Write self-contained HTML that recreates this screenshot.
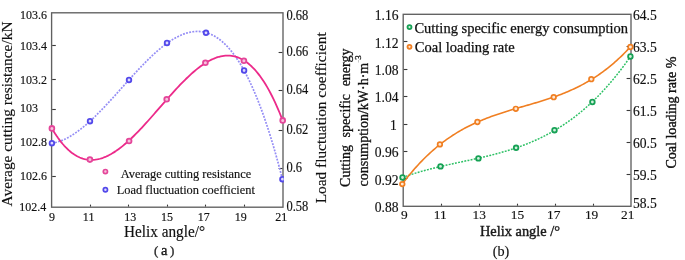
<!DOCTYPE html>
<html><head><meta charset="utf-8"><style>
html,body{margin:0;padding:0;background:#fff;}
svg{display:block;font-family:"Liberation Serif", serif;will-change:transform;}
</style></head><body>
<svg width="685" height="260" viewBox="0 0 685 260">
<rect width="685" height="260" fill="#fff"/>
<rect x="51.6" y="12.8" width="231.40" height="194.40" fill="none" stroke="#606060" stroke-width="1.35"/>
<text transform="translate(19.20,211.45) scale(1,1.12)" font-size="12" text-anchor="start" font-weight="normal" fill="#111111" stroke="#111111" stroke-width="0.15" >102.4</text>
<line x1="52.20" y1="176.50" x2="55.80" y2="176.50" stroke="#3a3a3a" stroke-width="1.1"/>
<text transform="translate(20.00,179.75) scale(1,1.12)" font-size="12" text-anchor="start" font-weight="normal" fill="#111111" stroke="#111111" stroke-width="0.15" >102.6</text>
<line x1="52.20" y1="142.50" x2="55.80" y2="142.50" stroke="#3a3a3a" stroke-width="1.1"/>
<text transform="translate(20.00,146.25) scale(1,1.12)" font-size="12" text-anchor="start" font-weight="normal" fill="#111111" stroke="#111111" stroke-width="0.15" >102.8</text>
<line x1="52.20" y1="109.50" x2="55.80" y2="109.50" stroke="#3a3a3a" stroke-width="1.1"/>
<text transform="translate(20.00,111.95) scale(1,1.12)" font-size="12" text-anchor="start" font-weight="normal" fill="#111111" stroke="#111111" stroke-width="0.15" >103</text>
<line x1="52.20" y1="79.50" x2="55.80" y2="79.50" stroke="#3a3a3a" stroke-width="1.1"/>
<text transform="translate(20.00,83.55) scale(1,1.12)" font-size="12" text-anchor="start" font-weight="normal" fill="#111111" stroke="#111111" stroke-width="0.15" >103.2</text>
<line x1="52.20" y1="45.50" x2="55.80" y2="45.50" stroke="#3a3a3a" stroke-width="1.1"/>
<text transform="translate(20.00,50.25) scale(1,1.12)" font-size="12" text-anchor="start" font-weight="normal" fill="#111111" stroke="#111111" stroke-width="0.15" >103.4</text>
<text transform="translate(20.00,18.55) scale(1,1.12)" font-size="12" text-anchor="start" font-weight="normal" fill="#111111" stroke="#111111" stroke-width="0.15" >103.6</text>
<text transform="translate(286.40,211.00) scale(1,1.12)" font-size="12.5" text-anchor="start" font-weight="normal" fill="#111111" stroke="#111111" stroke-width="0.15" >0.58</text>
<line x1="282.40" y1="168.50" x2="278.60" y2="168.50" stroke="#3a3a3a" stroke-width="1.1"/>
<text transform="translate(286.40,171.85) scale(1,1.12)" font-size="12.5" text-anchor="start" font-weight="normal" fill="#111111" stroke="#111111" stroke-width="0.15" >0.6</text>
<line x1="282.40" y1="130.50" x2="278.60" y2="130.50" stroke="#3a3a3a" stroke-width="1.1"/>
<text transform="translate(286.40,134.35) scale(1,1.12)" font-size="12.5" text-anchor="start" font-weight="normal" fill="#111111" stroke="#111111" stroke-width="0.15" >0.62</text>
<line x1="282.40" y1="90.50" x2="278.60" y2="90.50" stroke="#3a3a3a" stroke-width="1.1"/>
<text transform="translate(286.40,94.35) scale(1,1.12)" font-size="12.5" text-anchor="start" font-weight="normal" fill="#111111" stroke="#111111" stroke-width="0.15" >0.64</text>
<line x1="282.40" y1="52.50" x2="278.60" y2="52.50" stroke="#3a3a3a" stroke-width="1.1"/>
<text transform="translate(286.40,56.05) scale(1,1.12)" font-size="12.5" text-anchor="start" font-weight="normal" fill="#111111" stroke="#111111" stroke-width="0.15" >0.66</text>
<text transform="translate(286.40,20.20) scale(1,1.12)" font-size="12.5" text-anchor="start" font-weight="normal" fill="#111111" stroke="#111111" stroke-width="0.15" >0.68</text>
<text transform="translate(52.10,220.60) scale(1,1.12)" font-size="12" text-anchor="middle" font-weight="normal" fill="#111111" stroke="#111111" stroke-width="0.15" >9</text>
<line x1="90.50" y1="206.60" x2="90.50" y2="204.60" stroke="#3a3a3a" stroke-width="1.1"/>
<text transform="translate(88.60,220.60) scale(1,1.12)" font-size="12" text-anchor="middle" font-weight="normal" fill="#111111" stroke="#111111" stroke-width="0.15" >11</text>
<line x1="128.50" y1="206.60" x2="128.50" y2="204.60" stroke="#3a3a3a" stroke-width="1.1"/>
<text transform="translate(130.20,220.60) scale(1,1.12)" font-size="12" text-anchor="middle" font-weight="normal" fill="#111111" stroke="#111111" stroke-width="0.15" >13</text>
<line x1="167.50" y1="206.60" x2="167.50" y2="204.60" stroke="#3a3a3a" stroke-width="1.1"/>
<text transform="translate(167.00,220.60) scale(1,1.12)" font-size="12" text-anchor="middle" font-weight="normal" fill="#111111" stroke="#111111" stroke-width="0.15" >15</text>
<line x1="205.50" y1="206.60" x2="205.50" y2="204.60" stroke="#3a3a3a" stroke-width="1.1"/>
<text transform="translate(203.80,220.60) scale(1,1.12)" font-size="12" text-anchor="middle" font-weight="normal" fill="#111111" stroke="#111111" stroke-width="0.15" >17</text>
<line x1="244.50" y1="206.60" x2="244.50" y2="204.60" stroke="#3a3a3a" stroke-width="1.1"/>
<text transform="translate(240.80,220.60) scale(1,1.12)" font-size="12" text-anchor="middle" font-weight="normal" fill="#111111" stroke="#111111" stroke-width="0.15" >19</text>
<text transform="translate(281.30,220.60) scale(1,1.12)" font-size="12" text-anchor="middle" font-weight="normal" fill="#111111" stroke="#111111" stroke-width="0.15" >21</text>
<path d="M51.90,143.21 L53.45,142.95 L54.99,142.63 L56.54,142.24 L58.09,141.80 L59.63,141.29 L61.18,140.72 L62.73,140.10 L64.28,139.42 L65.82,138.68 L67.37,137.90 L68.92,137.06 L70.46,136.17 L72.01,135.23 L73.56,134.24 L75.10,133.21 L76.65,132.13 L78.20,131.01 L79.75,129.85 L81.29,128.65 L82.84,127.41 L84.39,126.14 L85.93,124.83 L87.48,123.48 L89.03,122.10 L90.57,120.69 L92.12,119.25 L93.67,117.78 L95.22,116.29 L96.76,114.77 L98.31,113.22 L99.86,111.66 L101.40,110.07 L102.95,108.46 L104.50,106.84 L106.04,105.19 L107.59,103.54 L109.14,101.87 L110.69,100.18 L112.23,98.49 L113.78,96.78 L115.33,95.07 L116.87,93.36 L118.42,91.63 L119.97,89.91 L121.51,88.18 L123.06,86.45 L124.61,84.72 L126.16,83.00 L127.70,81.28 L129.25,79.56 L130.80,77.85 L132.34,76.15 L133.89,74.46 L135.44,72.78 L136.98,71.11 L138.53,69.45 L140.08,67.81 L141.62,66.19 L143.17,64.59 L144.72,63.01 L146.27,61.44 L147.81,59.91 L149.36,58.39 L150.91,56.90 L152.45,55.44 L154.00,54.01 L155.55,52.60 L157.09,51.23 L158.64,49.89 L160.19,48.59 L161.74,47.32 L163.28,46.09 L164.83,44.90 L166.38,43.75 L167.92,42.64 L169.47,41.57 L171.02,40.55 L172.56,39.57 L174.11,38.65 L175.66,37.77 L177.21,36.94 L178.75,36.16 L180.30,35.44 L181.85,34.77 L183.39,34.16 L184.94,33.61 L186.49,33.11 L188.03,32.68 L189.58,32.31 L191.13,32.00 L192.68,31.76 L194.22,31.58 L195.77,31.48 L197.32,31.44 L198.86,31.47 L200.41,31.58 L201.96,31.76 L203.50,32.01 L205.05,32.34 L206.60,32.75 L208.14,33.24 L209.69,33.81 L211.24,34.47 L212.79,35.20 L214.33,36.03 L215.88,36.94 L217.43,37.94 L218.97,39.03 L220.52,40.21 L222.07,41.48 L223.61,42.85 L225.16,44.31 L226.71,45.87 L228.26,47.53 L229.80,49.29 L231.35,51.15 L232.90,53.12 L234.44,55.19 L235.99,57.36 L237.54,59.65 L239.08,62.04 L240.63,64.54 L242.18,67.16 L243.73,69.88 L245.27,72.73 L246.82,75.69 L248.37,78.76 L249.91,81.96 L251.46,85.27 L253.01,88.71 L254.55,92.28 L256.10,95.96 L257.65,99.78 L259.20,103.72 L260.74,107.79 L262.29,111.99 L263.84,116.33 L265.38,120.80 L266.93,125.40 L268.48,130.14 L270.02,135.02 L271.57,140.04 L273.12,145.20 L274.67,150.50 L276.21,155.94 L277.76,161.54 L279.31,167.27 L280.85,173.16 L282.40,179.20" fill="none" stroke="#958ef5" stroke-width="1.7" stroke-dasharray="1.9,1.3" stroke-linecap="butt" stroke-linejoin="round"/>
<path d="M51.90,128.36 L53.45,130.97 L55.00,133.45 L56.55,135.80 L58.10,138.04 L59.64,140.15 L61.19,142.14 L62.74,144.02 L64.29,145.78 L65.84,147.43 L67.39,148.97 L68.94,150.39 L70.49,151.71 L72.04,152.93 L73.59,154.04 L75.13,155.04 L76.68,155.95 L78.23,156.76 L79.78,157.47 L81.33,158.08 L82.88,158.61 L84.43,159.04 L85.98,159.38 L87.53,159.64 L89.08,159.81 L90.62,159.89 L92.17,159.90 L93.72,159.82 L95.27,159.67 L96.82,159.44 L98.37,159.13 L99.92,158.75 L101.47,158.30 L103.02,157.78 L104.57,157.20 L106.11,156.55 L107.66,155.83 L109.21,155.06 L110.76,154.22 L112.31,153.33 L113.86,152.37 L115.41,151.37 L116.96,150.31 L118.51,149.20 L120.06,148.05 L121.60,146.84 L123.15,145.59 L124.70,144.30 L126.25,142.97 L127.80,141.60 L129.35,140.18 L130.90,138.74 L132.45,137.26 L134.00,135.74 L135.55,134.20 L137.09,132.63 L138.64,131.03 L140.19,129.40 L141.74,127.76 L143.29,126.09 L144.84,124.40 L146.39,122.70 L147.94,120.98 L149.49,119.24 L151.04,117.49 L152.58,115.74 L154.13,113.97 L155.68,112.20 L157.23,110.43 L158.78,108.65 L160.33,106.87 L161.88,105.09 L163.43,103.31 L164.98,101.54 L166.53,99.78 L168.07,98.02 L169.62,96.27 L171.17,94.54 L172.72,92.82 L174.27,91.11 L175.82,89.43 L177.37,87.76 L178.92,86.11 L180.47,84.49 L182.02,82.89 L183.56,81.31 L185.11,79.77 L186.66,78.26 L188.21,76.78 L189.76,75.33 L191.31,73.92 L192.86,72.54 L194.41,71.21 L195.96,69.92 L197.51,68.67 L199.05,67.46 L200.60,66.31 L202.15,65.20 L203.70,64.14 L205.25,63.14 L206.80,62.19 L208.35,61.29 L209.90,60.45 L211.45,59.68 L213.00,58.96 L214.54,58.31 L216.09,57.72 L217.64,57.21 L219.19,56.76 L220.74,56.38 L222.29,56.07 L223.84,55.84 L225.39,55.68 L226.94,55.61 L228.49,55.61 L230.03,55.70 L231.58,55.87 L233.13,56.12 L234.68,56.46 L236.23,56.89 L237.78,57.42 L239.33,58.03 L240.88,58.74 L242.43,59.55 L243.98,60.46 L245.52,61.46 L247.07,62.57 L248.62,63.79 L250.17,65.10 L251.72,66.53 L253.27,68.07 L254.82,69.71 L256.37,71.47 L257.92,73.35 L259.47,75.34 L261.01,77.46 L262.56,79.69 L264.11,82.04 L265.66,84.52 L267.21,87.13 L268.76,89.86 L270.31,92.72 L271.86,95.72 L273.41,98.85 L274.96,102.11 L276.50,105.51 L278.05,109.05 L279.60,112.73 L281.15,116.56 L282.70,120.53" fill="none" stroke="#ec2a8a" stroke-width="1.8" stroke-linecap="butt" stroke-linejoin="round"/>
<circle cx="51.90" cy="128.40" r="2.4" fill="#f7c4dc" stroke="#e4469a" stroke-width="1.8"/>
<circle cx="89.90" cy="159.60" r="2.4" fill="#f7c4dc" stroke="#e4469a" stroke-width="1.8"/>
<circle cx="129.10" cy="141.00" r="2.4" fill="#f7c4dc" stroke="#e4469a" stroke-width="1.8"/>
<circle cx="166.70" cy="99.20" r="2.4" fill="#f7c4dc" stroke="#e4469a" stroke-width="1.8"/>
<circle cx="205.40" cy="62.80" r="2.4" fill="#f7c4dc" stroke="#e4469a" stroke-width="1.8"/>
<circle cx="243.90" cy="60.80" r="2.4" fill="#f7c4dc" stroke="#e4469a" stroke-width="1.8"/>
<circle cx="282.70" cy="120.40" r="2.4" fill="#f7c4dc" stroke="#e4469a" stroke-width="1.8"/>
<clipPath id="cl"><rect x="0" y="0" width="283.8" height="260"/></clipPath><g clip-path="url(#cl)">
<circle cx="51.90" cy="143.20" r="2.3" fill="#dedbfe" stroke="#5248ea" stroke-width="1.8"/>
<circle cx="90.00" cy="121.20" r="2.3" fill="#dedbfe" stroke="#5248ea" stroke-width="1.8"/>
<circle cx="129.00" cy="80.00" r="2.3" fill="#dedbfe" stroke="#5248ea" stroke-width="1.8"/>
<circle cx="167.00" cy="43.00" r="2.3" fill="#dedbfe" stroke="#5248ea" stroke-width="1.8"/>
<circle cx="206.00" cy="32.80" r="2.3" fill="#dedbfe" stroke="#5248ea" stroke-width="1.8"/>
<circle cx="244.10" cy="70.50" r="2.3" fill="#dedbfe" stroke="#5248ea" stroke-width="1.8"/>
<circle cx="282.40" cy="179.20" r="2.3" fill="#dedbfe" stroke="#5248ea" stroke-width="1.8"/>
</g>
<text transform="translate(164.50,236.80) scale(1,1.12)" font-size="15.4" text-anchor="middle" font-weight="normal" fill="#111111" stroke="#111111" stroke-width="0.15" textLength="81" lengthAdjust="spacingAndGlyphs">Helix angle/°</text>
<text x="164.20" y="255.40" font-size="14.5" text-anchor="middle" font-weight="normal" fill="#111111" stroke="#111111" stroke-width="0.3" ><tspan font-size="13" fill="#333">(</tspan><tspan dx="2.6">a</tspan><tspan dx="2.8" font-size="13" fill="#333">)</tspan></text>
<text x="0.00" y="0.00" font-size="15.4" text-anchor="middle" font-weight="normal" fill="#111111" stroke="#111111" stroke-width="0.15" transform="translate(11.6,114.0) rotate(-90)" textLength="185" lengthAdjust="spacingAndGlyphs">Average cutting resistance/kN</text>
<text x="0.00" y="0.00" font-size="15.4" text-anchor="middle" font-weight="normal" fill="#111111" stroke="#111111" stroke-width="0.15" transform="translate(325.8,117.8) rotate(-90)" textLength="171" lengthAdjust="spacingAndGlyphs">Load fluctuation coefficient</text>
<circle cx="105.40" cy="171.60" r="2.1" fill="#f7c4dc" stroke="#e4469a" stroke-width="1.7"/>
<circle cx="105.40" cy="189.80" r="2.1" fill="#dedbfe" stroke="#5248ea" stroke-width="1.7"/>
<text transform="translate(185.90,177.70) scale(1,1.05)" font-size="12.4" text-anchor="middle" font-weight="normal" fill="#111111" stroke="#111111" stroke-width="0.15" >Average cutting resistance</text>
<text transform="translate(185.80,194.10) scale(1,1.05)" font-size="12.4" text-anchor="middle" font-weight="normal" fill="#111111" stroke="#111111" stroke-width="0.15" >Load fluctuation coefficient</text>
<rect x="403.2" y="14.3" width="227.80" height="192.00" fill="none" stroke="#606060" stroke-width="1.35"/>
<text x="398.60" y="211.60" font-size="13.6" text-anchor="end" font-weight="normal" fill="#111111" stroke="#111111" stroke-width="0.15" >0.88</text>
<line x1="403.80" y1="178.50" x2="407.40" y2="178.50" stroke="#3a3a3a" stroke-width="1.1"/>
<text x="398.60" y="184.77" font-size="13.6" text-anchor="end" font-weight="normal" fill="#111111" stroke="#111111" stroke-width="0.15" >0.92</text>
<line x1="403.80" y1="151.50" x2="407.40" y2="151.50" stroke="#3a3a3a" stroke-width="1.1"/>
<text x="398.60" y="157.34" font-size="13.6" text-anchor="end" font-weight="normal" fill="#111111" stroke="#111111" stroke-width="0.15" >0.96</text>
<line x1="403.80" y1="124.50" x2="407.40" y2="124.50" stroke="#3a3a3a" stroke-width="1.1"/>
<text x="393.40" y="129.91" font-size="13.6" text-anchor="middle" font-weight="normal" fill="#111111" stroke="#111111" stroke-width="0.15" >1</text>
<line x1="403.80" y1="96.50" x2="407.40" y2="96.50" stroke="#3a3a3a" stroke-width="1.1"/>
<text x="398.60" y="102.49" font-size="13.6" text-anchor="end" font-weight="normal" fill="#111111" stroke="#111111" stroke-width="0.15" >1.04</text>
<line x1="403.80" y1="69.50" x2="407.40" y2="69.50" stroke="#3a3a3a" stroke-width="1.1"/>
<text x="398.60" y="75.06" font-size="13.6" text-anchor="end" font-weight="normal" fill="#111111" stroke="#111111" stroke-width="0.15" >1.08</text>
<line x1="403.80" y1="41.50" x2="407.40" y2="41.50" stroke="#3a3a3a" stroke-width="1.1"/>
<text x="398.60" y="47.63" font-size="13.6" text-anchor="end" font-weight="normal" fill="#111111" stroke="#111111" stroke-width="0.15" >1.12</text>
<text x="398.60" y="20.10" font-size="13.6" text-anchor="end" font-weight="normal" fill="#111111" stroke="#111111" stroke-width="0.15" >1.16</text>
<text x="633.00" y="207.60" font-size="13.6" text-anchor="start" font-weight="normal" fill="#111111" stroke="#111111" stroke-width="0.15" >58.5</text>
<line x1="630.40" y1="174.50" x2="626.60" y2="174.50" stroke="#3a3a3a" stroke-width="1.1"/>
<text x="633.00" y="180.10" font-size="13.6" text-anchor="start" font-weight="normal" fill="#111111" stroke="#111111" stroke-width="0.15" >59.5</text>
<line x1="630.40" y1="142.50" x2="626.60" y2="142.50" stroke="#3a3a3a" stroke-width="1.1"/>
<text x="633.00" y="148.10" font-size="13.6" text-anchor="start" font-weight="normal" fill="#111111" stroke="#111111" stroke-width="0.15" >60.5</text>
<line x1="630.40" y1="110.50" x2="626.60" y2="110.50" stroke="#3a3a3a" stroke-width="1.1"/>
<text x="633.00" y="116.10" font-size="13.6" text-anchor="start" font-weight="normal" fill="#111111" stroke="#111111" stroke-width="0.15" >61.5</text>
<line x1="630.40" y1="78.50" x2="626.60" y2="78.50" stroke="#3a3a3a" stroke-width="1.1"/>
<text x="633.00" y="84.10" font-size="13.6" text-anchor="start" font-weight="normal" fill="#111111" stroke="#111111" stroke-width="0.15" >62.5</text>
<line x1="630.40" y1="46.50" x2="626.60" y2="46.50" stroke="#3a3a3a" stroke-width="1.1"/>
<text x="633.00" y="52.10" font-size="13.6" text-anchor="start" font-weight="normal" fill="#111111" stroke="#111111" stroke-width="0.15" >63.5</text>
<text x="633.00" y="19.60" font-size="13.6" text-anchor="start" font-weight="normal" fill="#111111" stroke="#111111" stroke-width="0.15" >64.5</text>
<text x="404.25" y="219.30" font-size="13.4" text-anchor="middle" font-weight="normal" fill="#111111" stroke="#111111" stroke-width="0.15" >9</text>
<line x1="441.50" y1="205.70" x2="441.50" y2="203.70" stroke="#3a3a3a" stroke-width="1.1"/>
<text x="440.30" y="219.30" font-size="13.4" text-anchor="middle" font-weight="normal" fill="#111111" stroke="#111111" stroke-width="0.15" >11</text>
<line x1="479.50" y1="205.70" x2="479.50" y2="203.70" stroke="#3a3a3a" stroke-width="1.1"/>
<text x="479.30" y="219.30" font-size="13.4" text-anchor="middle" font-weight="normal" fill="#111111" stroke="#111111" stroke-width="0.15" >13</text>
<line x1="517.50" y1="205.70" x2="517.50" y2="203.70" stroke="#3a3a3a" stroke-width="1.1"/>
<text x="517.50" y="219.30" font-size="13.4" text-anchor="middle" font-weight="normal" fill="#111111" stroke="#111111" stroke-width="0.15" >15</text>
<line x1="555.50" y1="205.70" x2="555.50" y2="203.70" stroke="#3a3a3a" stroke-width="1.1"/>
<text x="553.80" y="219.30" font-size="13.4" text-anchor="middle" font-weight="normal" fill="#111111" stroke="#111111" stroke-width="0.15" >17</text>
<line x1="593.50" y1="205.70" x2="593.50" y2="203.70" stroke="#3a3a3a" stroke-width="1.1"/>
<text x="591.60" y="219.30" font-size="13.4" text-anchor="middle" font-weight="normal" fill="#111111" stroke="#111111" stroke-width="0.15" >19</text>
<text x="627.70" y="219.30" font-size="13.4" text-anchor="middle" font-weight="normal" fill="#111111" stroke="#111111" stroke-width="0.15" >21</text>
<path d="M402.50,177.49 L404.03,176.94 L405.56,176.40 L407.09,175.87 L408.62,175.35 L410.15,174.84 L411.68,174.34 L413.21,173.85 L414.74,173.37 L416.27,172.90 L417.80,172.44 L419.32,171.99 L420.85,171.55 L422.38,171.12 L423.91,170.69 L425.44,170.27 L426.97,169.86 L428.50,169.46 L430.03,169.06 L431.56,168.67 L433.09,168.28 L434.62,167.91 L436.15,167.53 L437.68,167.16 L439.21,166.80 L440.74,166.44 L442.27,166.09 L443.80,165.74 L445.33,165.39 L446.86,165.05 L448.39,164.71 L449.92,164.37 L451.44,164.03 L452.97,163.70 L454.50,163.37 L456.03,163.04 L457.56,162.71 L459.09,162.38 L460.62,162.05 L462.15,161.73 L463.68,161.40 L465.21,161.07 L466.74,160.74 L468.27,160.41 L469.80,160.08 L471.33,159.75 L472.86,159.41 L474.39,159.08 L475.92,158.74 L477.45,158.40 L478.98,158.05 L480.51,157.70 L482.04,157.35 L483.57,156.99 L485.09,156.63 L486.62,156.27 L488.15,155.90 L489.68,155.52 L491.21,155.14 L492.74,154.75 L494.27,154.36 L495.80,153.95 L497.33,153.55 L498.86,153.13 L500.39,152.71 L501.92,152.28 L503.45,151.84 L504.98,151.40 L506.51,150.94 L508.04,150.48 L509.57,150.00 L511.10,149.52 L512.63,149.03 L514.16,148.52 L515.69,148.01 L517.21,147.48 L518.74,146.95 L520.27,146.40 L521.80,145.84 L523.33,145.27 L524.86,144.68 L526.39,144.08 L527.92,143.47 L529.45,142.85 L530.98,142.21 L532.51,141.56 L534.04,140.90 L535.57,140.22 L537.10,139.52 L538.63,138.81 L540.16,138.08 L541.69,137.34 L543.22,136.58 L544.75,135.81 L546.28,135.02 L547.81,134.21 L549.33,133.38 L550.86,132.54 L552.39,131.68 L553.92,130.80 L555.45,129.90 L556.98,128.98 L558.51,128.05 L560.04,127.09 L561.57,126.11 L563.10,125.12 L564.63,124.10 L566.16,123.06 L567.69,122.00 L569.22,120.92 L570.75,119.82 L572.28,118.70 L573.81,117.55 L575.34,116.38 L576.87,115.19 L578.40,113.98 L579.93,112.74 L581.46,111.47 L582.98,110.19 L584.51,108.88 L586.04,107.54 L587.57,106.18 L589.10,104.79 L590.63,103.38 L592.16,101.94 L593.69,100.47 L595.22,98.98 L596.75,97.46 L598.28,95.92 L599.81,94.34 L601.34,92.74 L602.87,91.11 L604.40,89.45 L605.93,87.76 L607.46,86.05 L608.99,84.30 L610.52,82.53 L612.05,80.72 L613.58,78.88 L615.10,77.02 L616.63,75.12 L618.16,73.19 L619.69,71.23 L621.22,69.23 L622.75,67.21 L624.28,65.15 L625.81,63.06 L627.34,60.94 L628.87,58.78 L630.40,56.59" fill="none" stroke="#2cc064" stroke-width="1.5" stroke-dasharray="1.9,1.3" stroke-linecap="butt" stroke-linejoin="round"/>
<path d="M402.30,184.01 L403.83,181.98 L405.36,179.99 L406.89,178.04 L408.42,176.12 L409.95,174.25 L411.49,172.41 L413.02,170.61 L414.55,168.84 L416.08,167.12 L417.61,165.43 L419.14,163.77 L420.67,162.15 L422.20,160.57 L423.73,159.01 L425.26,157.50 L426.79,156.01 L428.32,154.56 L429.86,153.14 L431.39,151.75 L432.92,150.39 L434.45,149.06 L435.98,147.76 L437.51,146.49 L439.04,145.25 L440.57,144.04 L442.10,142.85 L443.63,141.69 L445.16,140.56 L446.70,139.46 L448.23,138.38 L449.76,137.33 L451.29,136.30 L452.82,135.29 L454.35,134.31 L455.88,133.36 L457.41,132.42 L458.94,131.51 L460.47,130.62 L462.00,129.75 L463.53,128.90 L465.07,128.07 L466.60,127.26 L468.13,126.47 L469.66,125.70 L471.19,124.95 L472.72,124.21 L474.25,123.49 L475.78,122.79 L477.31,122.10 L478.84,121.43 L480.37,120.78 L481.91,120.14 L483.44,119.51 L484.97,118.89 L486.50,118.29 L488.03,117.71 L489.56,117.13 L491.09,116.57 L492.62,116.01 L494.15,115.47 L495.68,114.93 L497.21,114.41 L498.74,113.90 L500.28,113.39 L501.81,112.89 L503.34,112.40 L504.87,111.91 L506.40,111.44 L507.93,110.96 L509.46,110.50 L510.99,110.03 L512.52,109.58 L514.05,109.12 L515.58,108.67 L517.12,108.22 L518.65,107.78 L520.18,107.33 L521.71,106.89 L523.24,106.45 L524.77,106.01 L526.30,105.56 L527.83,105.12 L529.36,104.68 L530.89,104.23 L532.42,103.78 L533.96,103.33 L535.49,102.88 L537.02,102.42 L538.55,101.96 L540.08,101.49 L541.61,101.02 L543.14,100.54 L544.67,100.05 L546.20,99.56 L547.73,99.06 L549.26,98.55 L550.79,98.03 L552.33,97.51 L553.86,96.97 L555.39,96.43 L556.92,95.88 L558.45,95.31 L559.98,94.73 L561.51,94.14 L563.04,93.54 L564.57,92.92 L566.10,92.30 L567.63,91.65 L569.17,91.00 L570.70,90.32 L572.23,89.63 L573.76,88.93 L575.29,88.21 L576.82,87.47 L578.35,86.72 L579.88,85.94 L581.41,85.15 L582.94,84.34 L584.47,83.51 L586.00,82.65 L587.54,81.78 L589.07,80.89 L590.60,79.97 L592.13,79.04 L593.66,78.08 L595.19,77.09 L596.72,76.08 L598.25,75.05 L599.78,74.00 L601.31,72.91 L602.84,71.81 L604.38,70.67 L605.91,69.51 L607.44,68.32 L608.97,67.11 L610.50,65.86 L612.03,64.59 L613.56,63.29 L615.09,61.96 L616.62,60.59 L618.15,59.20 L619.68,57.77 L621.21,56.32 L622.75,54.83 L624.28,53.30 L625.81,51.75 L627.34,50.16 L628.87,48.53 L630.40,46.87" fill="none" stroke="#f07f22" stroke-width="1.6" stroke-linecap="butt" stroke-linejoin="round"/>
<circle cx="402.50" cy="177.50" r="2.3" fill="#d3f1de" stroke="#16a155" stroke-width="1.8"/>
<circle cx="440.50" cy="166.40" r="2.3" fill="#d3f1de" stroke="#16a155" stroke-width="1.8"/>
<circle cx="478.40" cy="158.40" r="2.3" fill="#d3f1de" stroke="#16a155" stroke-width="1.8"/>
<circle cx="516.10" cy="147.80" r="2.3" fill="#d3f1de" stroke="#16a155" stroke-width="1.8"/>
<circle cx="554.50" cy="130.20" r="2.3" fill="#d3f1de" stroke="#16a155" stroke-width="1.8"/>
<circle cx="592.40" cy="102.00" r="2.3" fill="#d3f1de" stroke="#16a155" stroke-width="1.8"/>
<circle cx="630.40" cy="56.50" r="2.3" fill="#d3f1de" stroke="#16a155" stroke-width="1.8"/>
<circle cx="402.30" cy="184.10" r="2.3" fill="#fee9d6" stroke="#f07f22" stroke-width="1.7"/>
<circle cx="439.90" cy="144.40" r="2.3" fill="#fee9d6" stroke="#f07f22" stroke-width="1.7"/>
<circle cx="477.40" cy="122.00" r="2.3" fill="#fee9d6" stroke="#f07f22" stroke-width="1.7"/>
<circle cx="515.80" cy="108.80" r="2.3" fill="#fee9d6" stroke="#f07f22" stroke-width="1.7"/>
<circle cx="553.70" cy="97.20" r="2.3" fill="#fee9d6" stroke="#f07f22" stroke-width="1.7"/>
<circle cx="591.30" cy="79.20" r="2.3" fill="#fee9d6" stroke="#f07f22" stroke-width="1.7"/>
<circle cx="630.40" cy="47.00" r="2.3" fill="#fee9d6" stroke="#f07f22" stroke-width="1.7"/>
<text x="520.00" y="235.80" font-size="14.4" text-anchor="middle" font-weight="normal" fill="#1a1a1a" stroke="#1a1a1a" stroke-width="0.4" >Helix angle /°</text>
<text x="501.00" y="255.50" font-size="14.2" text-anchor="middle" font-weight="normal" fill="#111111" stroke="#111111" stroke-width="0.15" >(b)</text>
<text x="0.00" y="0.00" font-size="14" text-anchor="start" font-weight="normal" fill="#111111" stroke="#111111" stroke-width="0.3" transform="translate(350.4,186.9) rotate(-90)">Cutting</text>
<text x="0.00" y="0.00" font-size="14" text-anchor="middle" font-weight="normal" fill="#111111" stroke="#111111" stroke-width="0.3" transform="translate(350.4,115.7) rotate(-90)">specific</text>
<text x="0.00" y="0.00" font-size="14" text-anchor="end" font-weight="normal" fill="#111111" stroke="#111111" stroke-width="0.3" transform="translate(350.4,48.5) rotate(-90)">energy</text>
<text x="0.00" y="0.00" font-size="14" text-anchor="start" font-weight="normal" fill="#111111" stroke="#111111" stroke-width="0.3" transform="translate(367.7,186.4) rotate(-90)">consumption/kW·h·m<tspan font-size="9" dy="-6.5"><tspan fill="#aaa" stroke="none">-</tspan>3</tspan></text>
<text x="0.00" y="0.00" font-size="14.2" text-anchor="middle" font-weight="normal" fill="#111111" stroke="#111111" stroke-width="0.35" transform="translate(675.5,112.6) rotate(-90)" textLength="112" lengthAdjust="spacingAndGlyphs">Coal loading rate %</text>
<circle cx="409.50" cy="27.10" r="2.0" fill="#d3f1de" stroke="#16a155" stroke-width="1.8"/>
<circle cx="409.50" cy="46.80" r="2.0" fill="#fee9d6" stroke="#f07f22" stroke-width="1.8"/>
<text x="414.40" y="32.60" font-size="14.5" text-anchor="start" font-weight="normal" fill="#111111" stroke="#111111" stroke-width="0.25" >Cutting specific energy consumption</text>
<text x="414.80" y="52.30" font-size="14.5" text-anchor="start" font-weight="normal" fill="#111111" stroke="#111111" stroke-width="0.25" >Coal loading rate</text>
</svg></body></html>
